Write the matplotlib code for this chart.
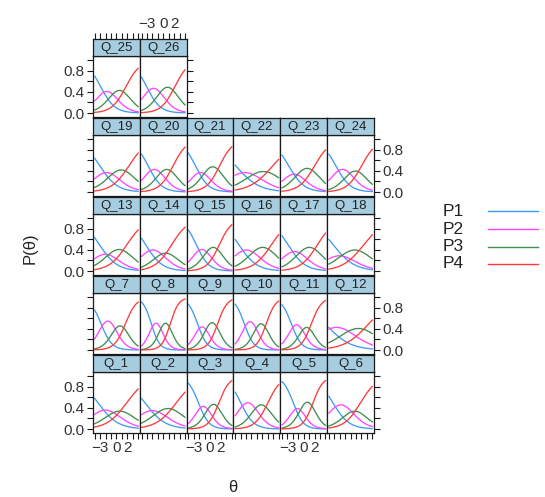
import numpy as np
import matplotlib
matplotlib.use("Agg")
import matplotlib.pyplot as plt

plt.rcParams['font.family'] = ['Liberation Sans', 'DejaVu Sans']

# ---- data ----
items = [f"Q_{i}" for i in range(1, 27)]
# P1 value at theta = -4, P4 value at theta = 4, peak heights of P2 and P3
p1_start = [0.58, 0.58, 0.87, 0.70, 0.90, 0.62,
            0.76, 0.91, 0.87, 0.87, 0.86, 0.43,
            0.63, 0.62, 0.78, 0.60, 0.67, 0.60,
            0.64, 0.72, 0.74, 0.51, 0.70, 0.72,
            0.70, 0.68]
p4_end = [0.76, 0.70, 0.92, 0.84, 0.92, 0.81,
          0.91, 0.97, 0.95, 0.93, 0.94, 0.57,
          0.78, 0.83, 0.88, 0.69, 0.72, 0.69,
          0.74, 0.85, 0.86, 0.62, 0.80, 0.81,
          0.85, 0.82]
p2_peak = [0.36, 0.35, 0.43, 0.50, 0.39, 0.46,
           0.55, 0.51, 0.44, 0.54, 0.48, 0.43,
           0.32, 0.40, 0.41, 0.40, 0.37, 0.29,
           0.37, 0.43, 0.37, 0.37, 0.34, 0.43,
           0.41, 0.47]
p3_peak = [0.34, 0.39, 0.47, 0.46, 0.51, 0.34,
           0.46, 0.51, 0.52, 0.50, 0.43, 0.41,
           0.41, 0.34, 0.45, 0.45, 0.45, 0.40,
           0.42, 0.43, 0.48, 0.39, 0.45, 0.40,
           0.43, 0.49]
categories = ["P1", "P2", "P3", "P4"]
theta_range = (-4, 4)
x_ticks = list(range(-4, 5))
x_ticklabels = ["", "\u22123", "", "", "0", "", "2", "", ""]
y_ticks = [0.0, 0.2, 0.4, 0.6, 0.8, 1.0]
y_ticklabels = ["0.0", "", "0.4", "", "0.8", ""]
x_label = "\u03b8"
y_label = "P(\u03b8)"

# ---- style ----
colors = ["#3d9cf2", "#ff45ff", "#3e8e4e", "#ff3a3a"]
strip_color = "#a6cce0"
edge = "#1a1a1a"
W, H = 545, 497


def logit(p):
    return np.log(p / (1 - p))


def grm_params(s, e, h2, h3):
    """Graded-response parameters from the read curve features."""
    span = theta_range[1] - theta_range[0]
    g2 = 4 * np.arctanh(h2)
    g3 = 4 * np.arctanh(h3)
    a = (logit(s) + logit(e) + g2 + g3) / span
    b1 = theta_range[0] + logit(s) / a
    b2 = b1 + g2 / a
    b3 = b2 + g3 / a
    return a, (b1, b2, b3)


def grm_curves(a, bs, th):
    F = [1 / (1 + np.exp(-a * (th - b))) for b in bs]
    return [1 - F[0], F[0] - F[1], F[1] - F[2], F[2]]


fig = plt.figure(figsize=(W / 100, H / 100), dpi=100)
fig.patch.set_facecolor("white")

x0, cw = 93.0, 46.83
panel_h, strip_h, pitch = 61.0, 17.0, 79.0
bottom0 = 433.0
xlim = (-4.32, 4.32)
ylim = (-0.076, 1.085)
th = np.linspace(theta_range[0], theta_range[1], 200)


def add_px_axes(x, ytop, w, h):
    return fig.add_axes([x / W, 1 - (ytop + h) / H, w / W, h / H])


tick_kw = dict(direction="out", length=4, width=0.8, colors=edge, labelsize=11,
               labelcolor="#333333", pad=2)

for idx, name in enumerate(items):
    row = idx // 6          # 0 = bottom row
    col = idx % 6
    ncols_row = 6 if row < 4 else 2
    pb = bottom0 - pitch * row
    ptop = pb - panel_h
    ax = add_px_axes(x0 + col * cw, ptop, cw, panel_h)
    ax.set_xlim(*xlim)
    ax.set_ylim(*ylim)
    a, bs = grm_params(p1_start[idx], p4_end[idx], p2_peak[idx], p3_peak[idx])
    curves = grm_curves(a, bs, th)
    for c, yv in zip(colors, curves):
        ax.plot(th, yv, color=c, lw=0.95)
    for sp in ax.spines.values():
        sp.set_color(edge)
        sp.set_linewidth(0.9)
    ax.set_xticks(x_ticks)
    ax.set_xticklabels(x_ticklabels)
    ax.set_yticks(y_ticks)
    ax.set_yticklabels(y_ticklabels)
    ax.tick_params(**tick_kw)
    is_left = col == 0
    is_right = col == ncols_row - 1
    ax.tick_params(axis="x", bottom=(row == 0), top=False,
                   labelbottom=(row == 0 and col % 2 == 0), labeltop=False)
    ax.tick_params(axis="y", left=is_left, right=is_right,
                   labelleft=(is_left and row % 2 == 0),
                   labelright=(is_right and row % 2 == 1 and row < 4))
    # strip
    sax = add_px_axes(x0 + col * cw, ptop - strip_h, cw, strip_h)
    sax.set_facecolor(strip_color)
    sax.set_xlim(*xlim)
    sax.set_ylim(0, 1)
    for sp in sax.spines.values():
        sp.set_color(edge)
        sp.set_linewidth(0.9)
    sax.text(0.5, 0.48, name, transform=sax.transAxes, ha="center", va="center",
             fontsize=9.5, color="#222222")
    sax.set_yticks([])
    if row == 4:
        sax.set_xticks(x_ticks)
        sax.set_xticklabels(x_ticklabels)
        sax.tick_params(**tick_kw)
        sax.tick_params(axis="x", bottom=False, labelbottom=False, top=True,
                        labeltop=(col == 1))
    else:
        sax.set_xticks([])

# axis titles
fig.text(30 / W, 1 - 248 / H, y_label, rotation=90, ha="center", va="center",
         fontsize=12, color="#222222")
fig.text(233 / W, 1 - 487 / H, x_label, ha="center", va="center",
         fontsize=12, color="#222222")

# legend
leg_y = [211, 229, 246.5, 264]
for cat, c, yy in zip(categories, colors, leg_y):
    fig.text(443 / W, 1 - yy / H, cat, ha="left", va="center", fontsize=12.5,
             color="#222222")
    fig.add_artist(plt.Line2D([488 / W, 538 / W], [1 - yy / H, 1 - yy / H],
                              color=c, lw=1.0, transform=fig.transFigure))

fig.savefig("out.png", dpi=100, facecolor="white")
